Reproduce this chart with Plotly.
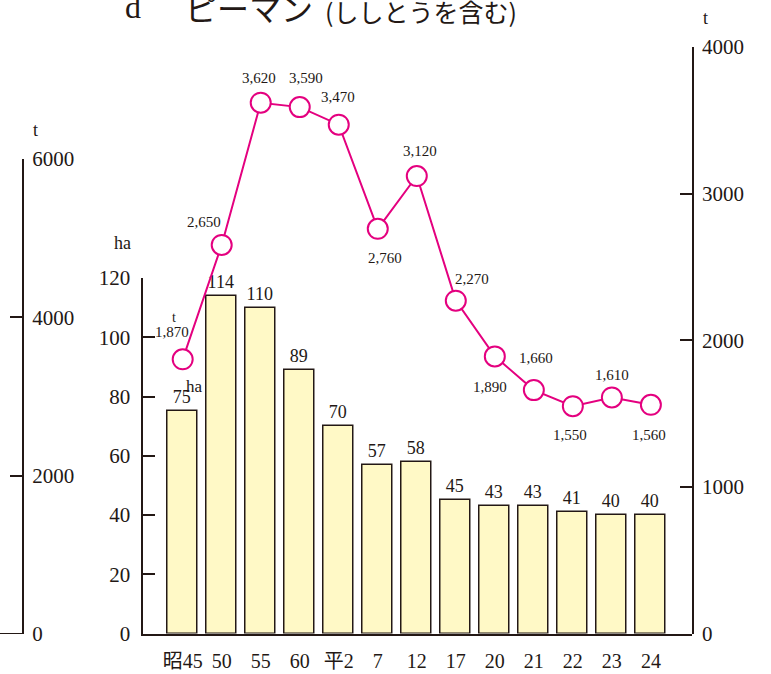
import plotly.graph_objects as go

# ---- data ----
categories = ["昭45", "50", "55", "60", "平2", "7", "12", "17", "20", "21", "22", "23", "24"]
area_ha = [75, 114, 110, 89, 70, 57, 58, 45, 43, 43, 41, 40, 40]
harvest_t = [1870, 2650, 3620, 3590, 3470, 2760, 3120, 2270, 1890, 1660, 1550, 1610, 1560]
ha_ticks = [0, 20, 40, 60, 80, 100, 120]
t_right_ticks = [0, 1000, 2000, 3000, 4000]
t_left_ticks = [0, 2000, 4000, 6000]

# label placement offsets (pixels) for the line's value labels
label_dx = [-11, -18, -1.5, 6.5, -1, 7.5, 3, 16, -4.5, 2, -2.5, 0, -1.5]
label_dy = [27.5, 23, 24.5, 29, 28, -29.5, 25, 21.5, -31, 32, -29, 22.5, -30]

# ---- style ----
W, H = 771, 674
DARK = "#231815"
MAG = "#E4007F"
BAR = "#FFF9C6"
SERIF = "'Liberation Serif', 'Noto Sans CJK JP', serif"
JP = "'Noto Sans CJK JP', sans-serif"


def px(x):
    return x / W


def py(y):
    return 1 - y / H


fig = go.Figure()

fig.add_trace(go.Bar(
    x=categories, y=area_ha, yaxis="y",
    width=0.77,
    marker=dict(color=BAR, line=dict(color=DARK, width=1.5)),
    text=[str(v) for v in area_ha], textposition="outside",
    textfont=dict(family=SERIF, size=18, color=DARK),
    constraintext="none", cliponaxis=False,
    showlegend=False, hoverinfo="skip",
))

fig.add_trace(go.Scatter(
    x=categories, y=harvest_t, yaxis="y2",
    mode="lines+markers",
    line=dict(color=MAG, width=2),
    marker=dict(size=20, color="white", line=dict(color=MAG, width=2)),
    cliponaxis=False, showlegend=False, hoverinfo="skip",
))

# empty trace so the far-left axis is drawn
fig.add_trace(go.Scatter(
    x=categories, y=[None] * len(categories), yaxis="y3",
    mode="lines", showlegend=False, hoverinfo="skip",
))

annotations = []
for i, v in enumerate(harvest_t):
    annotations.append(dict(
        x=i, y=v, xref="x", yref="y2", text=f"{v:,}", showarrow=False,
        xshift=label_dx[i], yshift=label_dy[i],
        font=dict(family=SERIF, size=15, color=DARK),
    ))

def paper_text(x, y, text, size, family=SERIF):
    annotations.append(dict(
        x=px(x), y=py(y), xref="paper", yref="paper", text=text,
        showarrow=False, xanchor="center", yanchor="middle",
        font=dict(family=family, size=size, color=DARK),
    ))

# title
paper_text(133, 7, "d", 32)
paper_text(249, 7, "ピーマン", 32, JP)
paper_text(421, 11, "(ししとうを含む)", 25, JP)

# unit labels
paper_text(35, 130, "t", 18)
paper_text(122, 243, "ha", 18)
paper_text(705, 18, "t", 18)
paper_text(173.5, 317, "t", 14)
paper_text(194, 386, "ha", 17)

fig.update_layout(
    width=W, height=H,
    margin=dict(l=0, r=0, t=0, b=0),
    template="none",
    paper_bgcolor="white", plot_bgcolor="rgba(0,0,0,0)",
    showlegend=False,
    bargap=0,
    annotations=annotations,
    xaxis=dict(
        domain=[px(142.5), px(691.7)],
        type="category",
        range=[-1.03, 13.046],
        anchor="y",
        showline=True, linecolor=DARK, linewidth=2,
        showgrid=False, zeroline=False,
        ticks="outside", ticklen=8, tickcolor="rgba(0,0,0,0)",
        tickfont=dict(family=SERIF, size=20, color=DARK),
        automargin=False,
    ),
    yaxis=dict(
        domain=[py(633.5), py(278)],
        range=[0, 120],
        anchor="x", side="left",
        tickvals=ha_ticks,
        showline=True, linecolor=DARK, linewidth=2,
        ticks="inside", ticklen=12, tickwidth=2, tickcolor=DARK,
        ticklabelstandoff=6,
        tickfont=dict(family=SERIF, size=21, color=DARK),
        showgrid=False, zeroline=False, automargin=False,
    ),
    yaxis2=dict(
        domain=[py(633.5), py(47)],
        range=[0, 4000],
        anchor="x", side="right",
        tickvals=t_right_ticks,
        showline=True, linecolor=DARK, linewidth=2,
        ticks="inside", ticklen=12, tickwidth=2, tickcolor=DARK,
        ticklabelstandoff=4,
        tickfont=dict(family=SERIF, size=21, color=DARK),
        showgrid=False, zeroline=False, automargin=False,
    ),
    yaxis3=dict(
        domain=[py(634), py(159)],
        range=[0, 6000],
        anchor="free", position=px(23), side="right",
        tickvals=t_left_ticks,
        showline=True, linecolor=DARK, linewidth=2,
        ticks="inside", ticklen=12, tickwidth=2, tickcolor=DARK,
        ticklabelstandoff=4,
        tickfont=dict(family=SERIF, size=21, color=DARK),
        showgrid=False, zeroline=False, automargin=False,
    ),
    shapes=[dict(
        type="line", xref="paper", yref="y3",
        x0=0, x1=px(23), y0=0, y1=0,
        line=dict(color=DARK, width=2),
    )],
)

fig.write_html(
    "out.html",
    config={"displayModeBar": False},
    post_script="document.body.style.margin='0';document.body.style.padding='0';",
)
